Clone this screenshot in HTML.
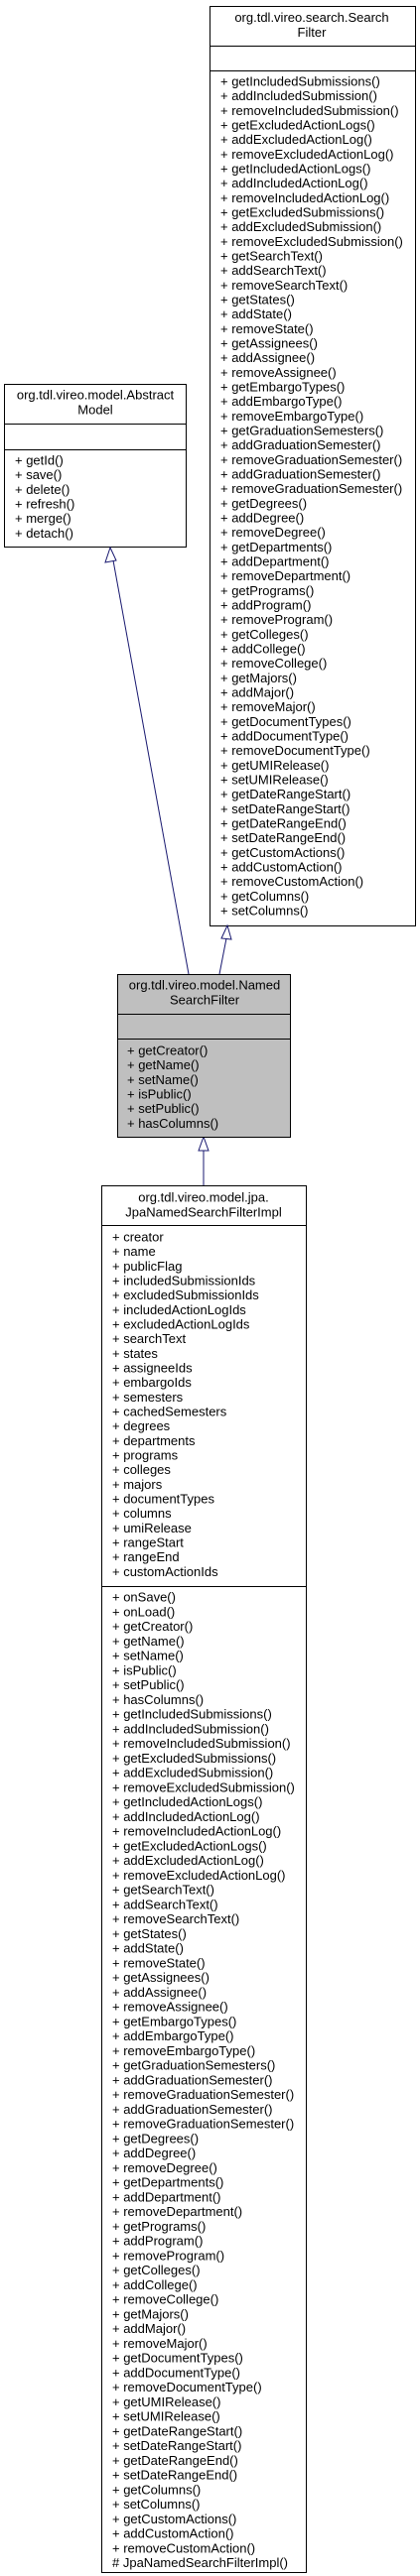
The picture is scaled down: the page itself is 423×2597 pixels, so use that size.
<!DOCTYPE html>
<html><head><meta charset="utf-8"><style>
html,body{margin:0;padding:0;background:#fff;}
svg{display:block;}
text{font-family:"Liberation Sans",Arial,sans-serif;font-size:13px;fill:#000;}
</style></head><body>
<svg xmlns="http://www.w3.org/2000/svg" width="423" height="2597" viewBox="0 0 423 2597">
<rect x="0" y="0" width="423" height="2597" fill="#fff"/>

<!-- SearchFilter -->
<rect x="211.5" y="6.5" width="207" height="927" fill="#fff" stroke="#000" stroke-width="1"/>
<line x1="211.5" y1="46.5" x2="418.5" y2="46.5" stroke="#000"/>
<line x1="211.5" y1="71.5" x2="418.5" y2="71.5" stroke="#000"/>
<text x="314" y="22" text-anchor="middle">org.tdl.vireo.search.Search</text>
<text x="314" y="37" text-anchor="middle">Filter</text>
<g id="sf">
<text x="222" y="86.5">+ getIncludedSubmissions()</text>
<text x="222" y="101.2">+ addIncludedSubmission()</text>
<text x="222" y="115.8">+ removeIncludedSubmission()</text>
<text x="222" y="130.5">+ getExcludedActionLogs()</text>
<text x="222" y="145.2">+ addExcludedActionLog()</text>
<text x="222" y="159.8">+ removeExcludedActionLog()</text>
<text x="222" y="174.5">+ getIncludedActionLogs()</text>
<text x="222" y="189.2">+ addIncludedActionLog()</text>
<text x="222" y="203.8">+ removeIncludedActionLog()</text>
<text x="222" y="218.5">+ getExcludedSubmissions()</text>
<text x="222" y="233.2">+ addExcludedSubmission()</text>
<text x="222" y="247.8">+ removeExcludedSubmission()</text>
<text x="222" y="262.5">+ getSearchText()</text>
<text x="222" y="277.2">+ addSearchText()</text>
<text x="222" y="291.8">+ removeSearchText()</text>
<text x="222" y="306.5">+ getStates()</text>
<text x="222" y="321.2">+ addState()</text>
<text x="222" y="335.8">+ removeState()</text>
<text x="222" y="350.5">+ getAssignees()</text>
<text x="222" y="365.2">+ addAssignee()</text>
<text x="222" y="379.8">+ removeAssignee()</text>
<text x="222" y="394.5">+ getEmbargoTypes()</text>
<text x="222" y="409.2">+ addEmbargoType()</text>
<text x="222" y="423.8">+ removeEmbargoType()</text>
<text x="222" y="438.5">+ getGraduationSemesters()</text>
<text x="222" y="453.2">+ addGraduationSemester()</text>
<text x="222" y="467.8">+ removeGraduationSemester()</text>
<text x="222" y="482.5">+ addGraduationSemester()</text>
<text x="222" y="497.2">+ removeGraduationSemester()</text>
<text x="222" y="511.8">+ getDegrees()</text>
<text x="222" y="526.5">+ addDegree()</text>
<text x="222" y="541.2">+ removeDegree()</text>
<text x="222" y="555.8">+ getDepartments()</text>
<text x="222" y="570.5">+ addDepartment()</text>
<text x="222" y="585.2">+ removeDepartment()</text>
<text x="222" y="599.8">+ getPrograms()</text>
<text x="222" y="614.5">+ addProgram()</text>
<text x="222" y="629.2">+ removeProgram()</text>
<text x="222" y="643.8">+ getColleges()</text>
<text x="222" y="658.5">+ addCollege()</text>
<text x="222" y="673.2">+ removeCollege()</text>
<text x="222" y="687.8">+ getMajors()</text>
<text x="222" y="702.5">+ addMajor()</text>
<text x="222" y="717.2">+ removeMajor()</text>
<text x="222" y="731.8">+ getDocumentTypes()</text>
<text x="222" y="746.5">+ addDocumentType()</text>
<text x="222" y="761.2">+ removeDocumentType()</text>
<text x="222" y="775.8">+ getUMIRelease()</text>
<text x="222" y="790.5">+ setUMIRelease()</text>
<text x="222" y="805.2">+ getDateRangeStart()</text>
<text x="222" y="819.8">+ setDateRangeStart()</text>
<text x="222" y="834.5">+ getDateRangeEnd()</text>
<text x="222" y="849.2">+ setDateRangeEnd()</text>
<text x="222" y="863.8">+ getCustomActions()</text>
<text x="222" y="878.5">+ addCustomAction()</text>
<text x="222" y="893.2">+ removeCustomAction()</text>
<text x="222" y="907.8">+ getColumns()</text>
<text x="222" y="922.5">+ setColumns()</text>
</g>

<!-- AbstractModel -->
<rect x="4.5" y="387.5" width="183" height="164" fill="#fff" stroke="#000"/>
<line x1="4.5" y1="427.5" x2="187.5" y2="427.5" stroke="#000"/>
<line x1="4.5" y1="453.5" x2="187.5" y2="453.5" stroke="#000"/>
<text x="96" y="402.5" text-anchor="middle">org.tdl.vireo.model.Abstract</text>
<text x="96" y="417.5" text-anchor="middle">Model</text>
<text x="15" y="468.5">+ getId()</text>
<text x="15" y="483.2">+ save()</text>
<text x="15" y="497.8">+ delete()</text>
<text x="15" y="512.5">+ refresh()</text>
<text x="15" y="527.2">+ merge()</text>
<text x="15" y="541.8">+ detach()</text>

<!-- connectors -->
<g stroke="#191970" stroke-width="1" fill="#fff">
<line x1="114" y1="565" x2="190" y2="982"/>
<polygon points="111,552 106,567 117,565"/>
<line x1="228" y1="946" x2="221" y2="982"/>
<polygon points="229,933 223,946 233,947"/>
<line x1="205" y1="1160" x2="205" y2="1195"/>
<polygon points="205,1146 200,1160 210,1160"/>
</g>

<!-- NamedSearchFilter -->
<rect x="118.5" y="982.5" width="174" height="164" fill="#bfbfbf" stroke="#000"/>
<line x1="118.5" y1="1022.5" x2="292.5" y2="1022.5" stroke="#000"/>
<line x1="118.5" y1="1047.5" x2="292.5" y2="1047.5" stroke="#000"/>
<text x="206" y="997.5" text-anchor="middle">org.tdl.vireo.model.Named</text>
<text x="206" y="1012.5" text-anchor="middle">SearchFilter</text>
<text x="128" y="1063.5">+ getCreator()</text>
<text x="128" y="1078.2">+ getName()</text>
<text x="128" y="1092.8">+ setName()</text>
<text x="128" y="1107.5">+ isPublic()</text>
<text x="128" y="1122.2">+ setPublic()</text>
<text x="128" y="1136.8">+ hasColumns()</text>

<!-- Impl -->
<rect x="102.5" y="1195.5" width="206" height="1398" fill="#fff" stroke="#000"/>
<line x1="102.5" y1="1235.5" x2="308.5" y2="1235.5" stroke="#000"/>
<line x1="102.5" y1="1599.5" x2="308.5" y2="1599.5" stroke="#000"/>
<text x="205" y="1211.5" text-anchor="middle">org.tdl.vireo.model.jpa.</text>
<text x="205" y="1226.5" text-anchor="middle">JpaNamedSearchFilterImpl</text>
<g>
<text x="113" y="1251.5">+ creator</text>
<text x="113" y="1266.2">+ name</text>
<text x="113" y="1280.8">+ publicFlag</text>
<text x="113" y="1295.5">+ includedSubmissionIds</text>
<text x="113" y="1310.2">+ excludedSubmissionIds</text>
<text x="113" y="1324.8">+ includedActionLogIds</text>
<text x="113" y="1339.5">+ excludedActionLogIds</text>
<text x="113" y="1354.2">+ searchText</text>
<text x="113" y="1368.8">+ states</text>
<text x="113" y="1383.5">+ assigneeIds</text>
<text x="113" y="1398.2">+ embargoIds</text>
<text x="113" y="1412.8">+ semesters</text>
<text x="113" y="1427.5">+ cachedSemesters</text>
<text x="113" y="1442.2">+ degrees</text>
<text x="113" y="1456.8">+ departments</text>
<text x="113" y="1471.5">+ programs</text>
<text x="113" y="1486.2">+ colleges</text>
<text x="113" y="1500.8">+ majors</text>
<text x="113" y="1515.5">+ documentTypes</text>
<text x="113" y="1530.2">+ columns</text>
<text x="113" y="1544.8">+ umiRelease</text>
<text x="113" y="1559.5">+ rangeStart</text>
<text x="113" y="1574.2">+ rangeEnd</text>
<text x="113" y="1588.8">+ customActionIds</text>
</g>
<g>
<text x="113" y="1614.5">+ onSave()</text>
<text x="113" y="1629.3">+ onLoad()</text>
<text x="113" y="1644.0">+ getCreator()</text>
<text x="113" y="1658.8">+ getName()</text>
<text x="113" y="1673.5">+ setName()</text>
<text x="113" y="1688.3">+ isPublic()</text>
<text x="113" y="1703.0">+ setPublic()</text>
<text x="113" y="1717.8">+ hasColumns()</text>
<text x="113" y="1732.5">+ getIncludedSubmissions()</text>
<text x="113" y="1747.3">+ addIncludedSubmission()</text>
<text x="113" y="1762.0">+ removeIncludedSubmission()</text>
<text x="113" y="1776.8">+ getExcludedSubmissions()</text>
<text x="113" y="1791.5">+ addExcludedSubmission()</text>
<text x="113" y="1806.3">+ removeExcludedSubmission()</text>
<text x="113" y="1821.0">+ getIncludedActionLogs()</text>
<text x="113" y="1835.8">+ addIncludedActionLog()</text>
<text x="113" y="1850.5">+ removeIncludedActionLog()</text>
<text x="113" y="1865.3">+ getExcludedActionLogs()</text>
<text x="113" y="1880.0">+ addExcludedActionLog()</text>
<text x="113" y="1894.8">+ removeExcludedActionLog()</text>
<text x="113" y="1909.5">+ getSearchText()</text>
<text x="113" y="1924.3">+ addSearchText()</text>
<text x="113" y="1939.0">+ removeSearchText()</text>
<text x="113" y="1953.8">+ getStates()</text>
<text x="113" y="1968.5">+ addState()</text>
<text x="113" y="1983.3">+ removeState()</text>
<text x="113" y="1998.0">+ getAssignees()</text>
<text x="113" y="2012.8">+ addAssignee()</text>
<text x="113" y="2027.5">+ removeAssignee()</text>
<text x="113" y="2042.3">+ getEmbargoTypes()</text>
<text x="113" y="2057.0">+ addEmbargoType()</text>
<text x="113" y="2071.8">+ removeEmbargoType()</text>
<text x="113" y="2086.5">+ getGraduationSemesters()</text>
<text x="113" y="2101.3">+ addGraduationSemester()</text>
<text x="113" y="2116.0">+ removeGraduationSemester()</text>
<text x="113" y="2130.8">+ addGraduationSemester()</text>
<text x="113" y="2145.5">+ removeGraduationSemester()</text>
<text x="113" y="2160.3">+ getDegrees()</text>
<text x="113" y="2175.0">+ addDegree()</text>
<text x="113" y="2189.8">+ removeDegree()</text>
<text x="113" y="2204.5">+ getDepartments()</text>
<text x="113" y="2219.3">+ addDepartment()</text>
<text x="113" y="2234.0">+ removeDepartment()</text>
<text x="113" y="2248.8">+ getPrograms()</text>
<text x="113" y="2263.5">+ addProgram()</text>
<text x="113" y="2278.3">+ removeProgram()</text>
<text x="113" y="2293.0">+ getColleges()</text>
<text x="113" y="2307.8">+ addCollege()</text>
<text x="113" y="2322.5">+ removeCollege()</text>
<text x="113" y="2337.3">+ getMajors()</text>
<text x="113" y="2352.0">+ addMajor()</text>
<text x="113" y="2366.8">+ removeMajor()</text>
<text x="113" y="2381.5">+ getDocumentTypes()</text>
<text x="113" y="2396.3">+ addDocumentType()</text>
<text x="113" y="2411.0">+ removeDocumentType()</text>
<text x="113" y="2425.8">+ getUMIRelease()</text>
<text x="113" y="2440.5">+ setUMIRelease()</text>
<text x="113" y="2455.3">+ getDateRangeStart()</text>
<text x="113" y="2470.0">+ setDateRangeStart()</text>
<text x="113" y="2484.8">+ getDateRangeEnd()</text>
<text x="113" y="2499.5">+ setDateRangeEnd()</text>
<text x="113" y="2514.3">+ getColumns()</text>
<text x="113" y="2529.0">+ setColumns()</text>
<text x="113" y="2543.8">+ getCustomActions()</text>
<text x="113" y="2558.5">+ addCustomAction()</text>
<text x="113" y="2573.3">+ removeCustomAction()</text>
<text x="113" y="2588.0"># JpaNamedSearchFilterImpl()</text>
</g>
</svg>
</body></html>
